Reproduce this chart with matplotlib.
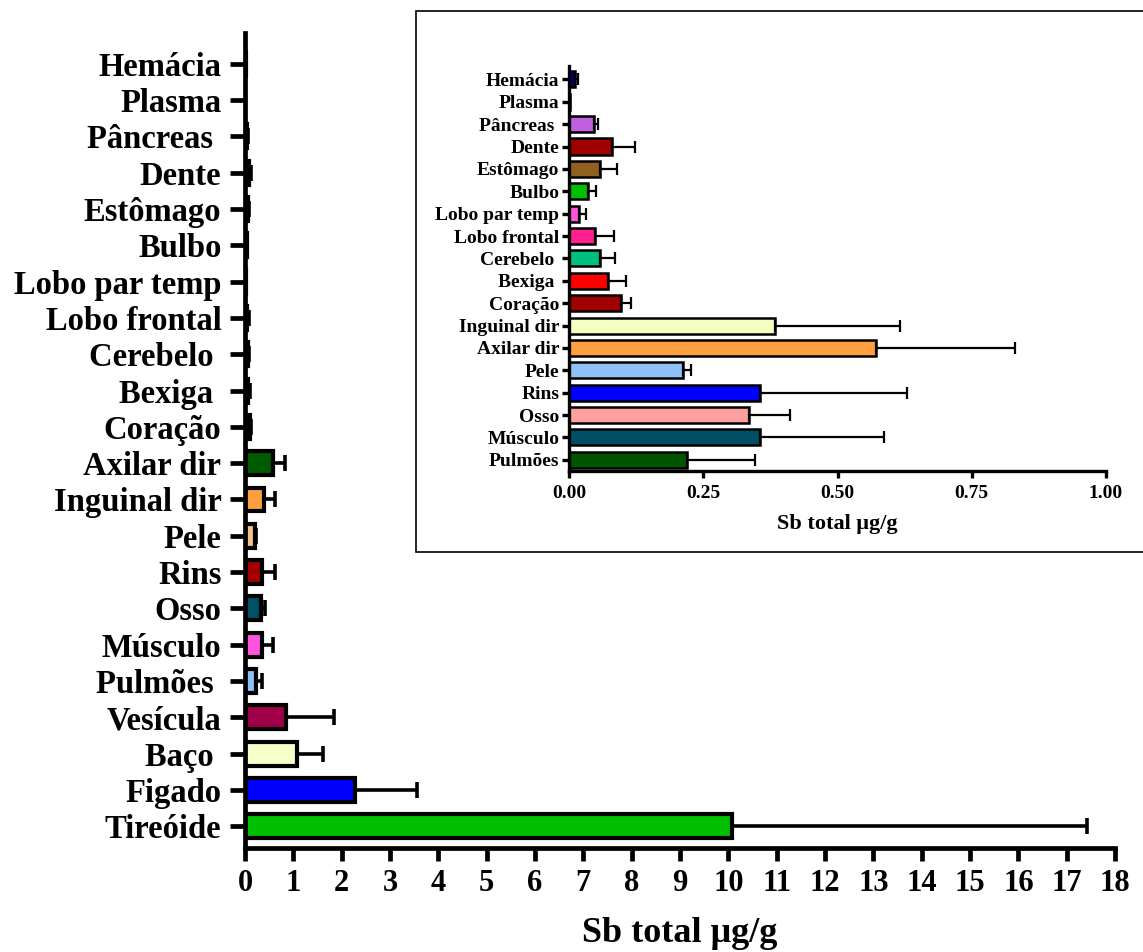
import matplotlib
matplotlib.use("Agg")
import matplotlib.pyplot as plt
from matplotlib.patches import Rectangle
import numpy as np

plt.rcParams['font.family'] = ['Liberation Serif', 'DejaVu Serif']
plt.rcParams['font.weight'] = 'bold'

# ---- data (Sb total ug/g) ----
organs = ["Tireóide", "Figado", "Baço", "Vesícula", "Pulmões", "Músculo", "Osso",
          "Rins", "Pele", "Inguinal dir", "Axilar dir", "Coração", "Bexiga",
          "Cerebelo", "Lobo frontal", "Lobo par temp", "Bulbo", "Estômago",
          "Dente", "Pâncreas", "Plasma", "Hemácia"]
means = [10.08, 2.27, 1.07, 0.84, 0.22, 0.356, 0.336,
         0.355, 0.212, 0.383, 0.572, 0.096, 0.072,
         0.058, 0.048, 0.019, 0.035, 0.058,
         0.081, 0.046, 0.002, 0.012]
errs = [7.34, 1.28, 0.54, 1.00, 0.127, 0.23, 0.075,
        0.274, 0.015, 0.234, 0.258, 0.02, 0.035,
        0.027, 0.036, 0.012, 0.015, 0.031,
        0.041, 0.008, 0.0, 0.005]

# main chart order (bottom to top) and labels
main_order = ["Tireóide", "Figado", "Baço", "Vesícula", "Pulmões", "Músculo", "Osso",
              "Rins", "Pele", "Inguinal dir", "Axilar dir", "Coração", "Bexiga",
              "Cerebelo", "Lobo frontal", "Lobo par temp", "Bulbo", "Estômago",
              "Dente", "Pâncreas", "Plasma", "Hemácia"]
main_labels = ["Tireóide", "Figado", "Baço ", "Vesícula", "Pulmões ", "Músculo", "Osso",
               "Rins", "Pele", "Inguinal dir", "Axilar dir", "Coração", "Bexiga ",
               "Cerebelo ", "Lobo frontal", "Lobo par temp", "Bulbo", "Estômago",
               "Dente", "Pâncreas ", "Plasma", "Hemácia"]
main_colors = ["#00C000", "#0000FF", "#F5FFC8", "#A0004A", "#8FBFF5", "#FF55DD", "#005066",
               "#A00000", "#F5C08A", "#FFA040", "#005A00", "#000000", "#000000",
               "#000000", "#000000", "#000000", "#000000", "#000000",
               "#000000", "#000000", "#000000", "#000000"]

# inset order (bottom to top)
inset_order = ["Pulmões", "Músculo", "Osso", "Rins", "Pele", "Axilar dir", "Inguinal dir",
               "Coração", "Bexiga", "Cerebelo", "Lobo frontal", "Lobo par temp", "Bulbo",
               "Estômago", "Dente", "Pâncreas", "Plasma", "Hemácia"]
inset_labels = ["Pulmões", "Músculo", "Osso", "Rins", "Pele", "Axilar dir", "Inguinal dir",
                "Coração", "Bexiga ", "Cerebelo ", "Lobo frontal", "Lobo par temp", "Bulbo",
                "Estômago", "Dente", "Pâncreas ", "Plasma", "Hemácia"]
inset_colors = ["#005500", "#004F66", "#FFA0A0", "#0000FF", "#90C0F8", "#FFA040", "#F5FFC0",
                "#A00000", "#FF0000", "#00C080", "#FF2090", "#FF55DD", "#00C000",
                "#906020", "#A00000", "#C060E0", "#000000", "#000080"]
inset_xticks = [0.0, 0.25, 0.50, 0.75, 1.00]
main_xticks = list(range(0, 19))

val = dict(zip(organs, means))
err = dict(zip(organs, errs))

fig = plt.figure(figsize=(11.43, 9.52), dpi=100)

# ---- main chart ----
ax = fig.add_axes([245/1143, 104/952, 870/1143, 815/952], zorder=0)
ax.patch.set_alpha(0)
y = np.arange(len(main_order))
mv = [val[o] for o in main_order]
me = [err[o] for o in main_order]
ax.barh(y, mv, height=0.66, color=main_colors, edgecolor='black', linewidth=3.0,
        xerr=[np.zeros(len(me)), me],
        error_kw=dict(ecolor='black', elinewidth=2.6, capsize=6, capthick=2.6), zorder=2)
ax.set_xlim(0, 18)
ax.set_ylim(-0.6, 21.85)
ax.set_yticks(y)
ax.set_yticklabels(main_labels, fontsize=23.5, fontweight='bold')
ax.set_xticks(main_xticks)
ax.set_xticklabels([str(t) for t in main_xticks], fontsize=22, fontweight='bold')
for s in ['top', 'right']:
    ax.spines[s].set_visible(False)
for s in ['left', 'bottom']:
    ax.spines[s].set_linewidth(3.4)
ax.tick_params(axis='y', length=11, width=3.4, pad=6)
ax.tick_params(axis='x', length=9, width=3.4, pad=6)
ax.set_xlabel("Sb total μg/g", fontsize=26, fontweight='bold', labelpad=14)

# ---- inset frame ----
rect = Rectangle((416/1143, 400/952), 1.0, 541/952, transform=fig.transFigure,
                 facecolor='white', edgecolor='black', linewidth=1.2, zorder=-1)
fig.patches.append(rect)

# ---- inset chart ----
axi = fig.add_axes([569/1143, 481/952, 537/1143, 405/952], zorder=1)
axi.patch.set_alpha(0)
yi = np.arange(len(inset_order))
iv = [val[o] for o in inset_order]
ie = [err[o] for o in inset_order]
axi.barh(yi, iv, height=0.72, color=inset_colors, edgecolor='black', linewidth=1.8,
         xerr=[np.zeros(len(ie)), ie],
         error_kw=dict(ecolor='black', elinewidth=1.6, capsize=4, capthick=1.6), zorder=2)
axi.set_xlim(0, 1.0)
axi.set_ylim(-0.5, 17.6)
axi.set_yticks(yi)
axi.set_yticklabels(inset_labels, fontsize=14, fontweight='bold')
axi.set_xticks(inset_xticks)
axi.set_xticklabels([f"{t:.2f}" for t in inset_xticks], fontsize=14, fontweight='bold')
for s in ['top', 'right']:
    axi.spines[s].set_visible(False)
for s in ['left', 'bottom']:
    axi.spines[s].set_linewidth(2.4)
axi.tick_params(axis='y', length=5, width=2.4, pad=2)
axi.tick_params(axis='x', length=5, width=2.4, pad=5)
axi.set_xlabel("Sb total μg/g", fontsize=16, fontweight='bold', labelpad=9)

fig.savefig("out.png", dpi=100)
